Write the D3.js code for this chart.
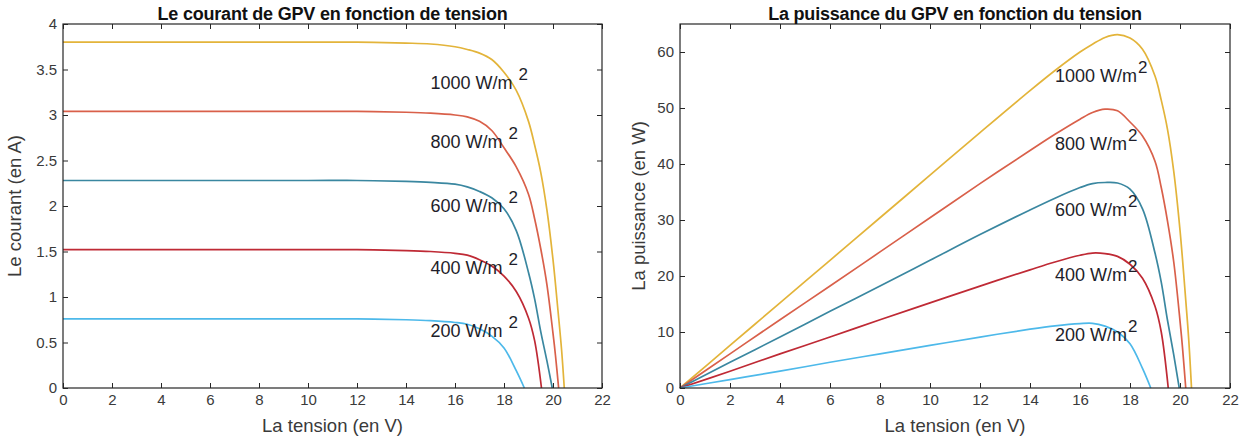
<!DOCTYPE html>
<html>
<head>
<meta charset="utf-8">
<script src="https://cdn.jsdelivr.net/npm/d3@7"></script>
<style>
  body { margin: 0; background: #fff; }
  svg text { font-family: "Liberation Sans", Arial, sans-serif; }
</style>
</head>
<body>
<svg id="chart" width="1247" height="438"></svg>
<script>
// Irradiance levels (W/m²) and their curve colours
const irradiances = [1000, 800, 600, 400, 200];
const seriesColors = ["#E3B43A", "#D9604A", "#3A87A0", "#BF2A35", "#4DB9EA"];

// I-V and P-V samples of the PV generator, one set per irradiance
const tension1000   = [0, 2, 4, 6, 8, 10, 12, 14, 15, 16, 16.5, 17, 17.5, 18, 18.5, 19, 19.25, 19.5, 19.75, 20, 20.2, 20.35, 20.46];
const courant1000   = [3.80, 3.80, 3.80, 3.80, 3.80, 3.80, 3.80, 3.79, 3.78, 3.75, 3.72, 3.68, 3.61, 3.47, 3.27, 2.93, 2.67, 2.37, 1.96, 1.41, 0.86, 0.42, 0];
const puissance1000 = [0, 7.6, 15.2, 22.8, 30.4, 38.0, 45.6, 53.1, 56.7, 60.0, 61.4, 62.6, 63.1, 62.5, 60.5, 55.7, 51.4, 46.2, 38.7, 28.2, 17.4, 8.6, 0];

const tension800   = [0, 2, 4, 6, 8, 10, 12, 14, 15, 16, 16.5, 17, 17.5, 18, 18.5, 19, 19.25, 19.5, 19.75, 20, 20.1, 20.23];
const courant800   = [3.04, 3.04, 3.04, 3.04, 3.04, 3.04, 3.04, 3.03, 3.02, 3.00, 2.98, 2.93, 2.83, 2.64, 2.43, 2.13, 1.86, 1.53, 1.14, 0.60, 0.36, 0];
const puissance800 = [0, 6.1, 12.2, 18.2, 24.3, 30.4, 36.5, 42.4, 45.3, 48.0, 49.2, 49.8, 49.5, 47.5, 45.0, 40.5, 35.8, 29.8, 22.5, 12.0, 7.2, 0];

const tension600   = [0, 2, 4, 6, 8, 10, 12, 14, 15, 16, 16.5, 17, 17.5, 18, 18.5, 19, 19.25, 19.5, 19.75, 19.97];
const courant600   = [2.28, 2.28, 2.28, 2.28, 2.28, 2.28, 2.28, 2.27, 2.26, 2.24, 2.21, 2.16, 2.09, 1.97, 1.73, 1.27, 0.98, 0.62, 0.30, 0];
const puissance600 = [0, 4.6, 9.1, 13.7, 18.2, 22.8, 27.4, 31.8, 33.9, 35.8, 36.5, 36.7, 36.6, 35.5, 32.0, 24.1, 18.9, 12.1, 5.9, 0];

const tension400   = [0, 2, 4, 6, 8, 10, 12, 14, 15, 16, 16.5, 17, 17.5, 18, 18.5, 19, 19.25, 19.53];
const courant400   = [1.52, 1.52, 1.52, 1.52, 1.52, 1.52, 1.52, 1.51, 1.50, 1.48, 1.46, 1.41, 1.34, 1.23, 1.06, 0.77, 0.52, 0];
const puissance400 = [0, 3.0, 6.1, 9.1, 12.2, 15.2, 18.2, 21.1, 22.5, 23.7, 24.1, 24.0, 23.5, 22.1, 19.6, 14.6, 10.0, 0];

const tension200   = [0, 2, 4, 6, 8, 10, 12, 14, 15, 16, 16.5, 17, 17.5, 18, 18.5, 18.83];
const courant200   = [0.76, 0.76, 0.76, 0.76, 0.76, 0.76, 0.76, 0.75, 0.74, 0.72, 0.70, 0.65, 0.57, 0.44, 0.19, 0];
const puissance200 = [0, 1.5, 3.0, 4.6, 6.1, 7.6, 9.1, 10.5, 11.1, 11.5, 11.55, 11.05, 10.0, 7.9, 3.5, 0];

const tensions   = [tension1000, tension800, tension600, tension400, tension200];
const courants   = [courant1000, courant800, courant600, courant400, courant200];
const puissances = [puissance1000, puissance800, puissance600, puissance400, puissance200];

// Axis ticks
const tensionTicks   = [0, 2, 4, 6, 8, 10, 12, 14, 16, 18, 20, 22];
const courantTicks   = [0, 0.5, 1, 1.5, 2, 2.5, 3, 3.5, 4];
const puissanceTicks = [0, 10, 20, 30, 40, 50, 60];

// Curve annotation anchors (voltage, then the value on each panel)
const labelTension   = 15;
const labelCourant   = [3.36, 2.71, 2.0, 1.32, 0.63];
const labelPuissance = [55.8, 43.7, 31.9, 20.2, 9.5];

const svg = d3.select("#chart");
const axisColor = "#262626";

function drawPanel(opts) {
  const { left, right, top, bottom, yMax, yTicks, yFmt, values, labelVals,
          title, xLabel, yLabel, yLabelX, supGap } = opts;
  const x = d3.scaleLinear().domain([0, 22]).range([left, right]);
  const y = d3.scaleLinear().domain([0, yMax]).range([bottom, top]);
  const g = svg.append("g");

  // curves
  const line = d3.line()
    .x(d => x(d[0])).y(d => y(d[1]))
    .curve(d3.curveCatmullRom.alpha(0.5));
  irradiances.forEach((irr, i) => {
    const pts = tensions[i].map((v, k) => [v, values[i][k]]);
    g.append("path").datum(pts)
      .attr("d", line)
      .attr("fill", "none")
      .attr("stroke", seriesColors[i])
      .attr("stroke-width", 1.7);
  });

  // axes with inward ticks on all four sides
  const styleAxis = sel => {
    sel.select(".domain").remove();
    sel.selectAll(".tick line").attr("stroke", axisColor).attr("stroke-width", 1);
    sel.selectAll(".tick text").attr("fill", "#3a3a3a")
      .style("font-size", "15px").style("font-family", '"Liberation Sans", Arial, sans-serif');
  };
  g.append("g").attr("transform", `translate(0,${bottom})`)
    .call(d3.axisBottom(x).tickValues(tensionTicks).tickSize(-5).tickPadding(6).tickFormat(d3.format("d")))
    .call(styleAxis);
  g.append("g").attr("transform", `translate(0,${top})`)
    .call(d3.axisTop(x).tickValues(tensionTicks).tickSize(-5).tickFormat(""))
    .call(styleAxis);
  g.append("g").attr("transform", `translate(${left},0)`)
    .call(d3.axisLeft(y).tickValues(yTicks).tickSize(-5).tickPadding(6).tickFormat(yFmt))
    .call(styleAxis);
  g.append("g").attr("transform", `translate(${right},0)`)
    .call(d3.axisRight(y).tickValues(yTicks).tickSize(-5).tickFormat(""))
    .call(styleAxis);

  // box
  g.append("rect")
    .attr("x", left).attr("y", top)
    .attr("width", right - left).attr("height", bottom - top)
    .attr("fill", "none").attr("stroke", axisColor).attr("stroke-width", 1.2);

  // curve annotations
  irradiances.forEach((irr, i) => {
    const t = g.append("text")
      .attr("x", x(labelTension)).attr("y", y(labelVals[i]))
      .attr("dy", "0.35em")
      .attr("fill", "#1e1e2a")
      .style("font-size", "18px");
    t.append("tspan").text(`${irr} W/m`);
    t.append("tspan").attr("dx", supGap).attr("dy", -9).style("font-size", "17px").text("2");
  });

  // title and axis labels
  g.append("text")
    .attr("x", (left + right) / 2).attr("y", 20)
    .attr("text-anchor", "middle")
    .attr("fill", "#111")
    .style("font-size", "18px").style("font-weight", "bold")
    .style("letter-spacing", "-0.2px")
    .text(title);
  g.append("text")
    .attr("x", (left + right) / 2).attr("y", 432)
    .attr("text-anchor", "middle")
    .attr("fill", "#3a3a3a")
    .style("font-size", "18.5px")
    .text(xLabel);
  g.append("text")
    .attr("transform", `translate(${yLabelX},${(top + bottom) / 2}) rotate(-90)`)
    .attr("text-anchor", "middle")
    .attr("fill", "#3a3a3a")
    .style("font-size", "18.5px")
    .text(yLabel);
}

drawPanel({
  left: 63, right: 602, top: 24, bottom: 388,
  yMax: 4, yTicks: courantTicks, yFmt: d3.format("~g"),
  values: courants, labelVals: labelCourant,
  title: "Le courant de GPV en fonction de tension",
  xLabel: "La tension (en V)", yLabel: "Le courant (en A)", yLabelX: 21, supGap: 6
});

drawPanel({
  left: 680, right: 1230, top: 24, bottom: 388,
  yMax: 65, yTicks: puissanceTicks, yFmt: d3.format("d"),
  values: puissances, labelVals: labelPuissance,
  title: "La puissance du GPV en fonction du tension",
  xLabel: "La tension (en V)", yLabel: "La puissance (en W)", yLabelX: 645, supGap: 1
});
</script>
</body>
</html>
